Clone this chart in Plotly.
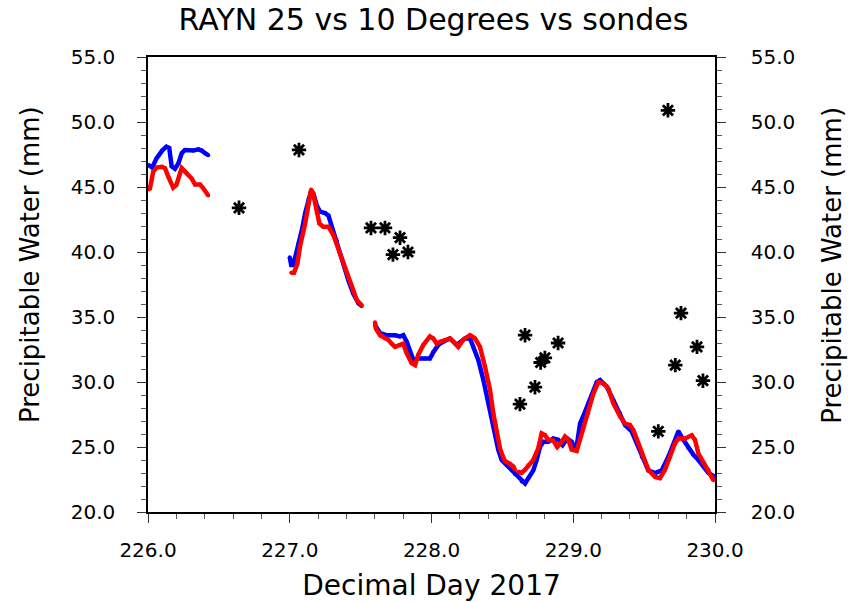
import plotly.graph_objects as go

# ---- data ----
blue_x = [226.000, 226.030, 226.060, 226.100, 226.130, 226.150, 226.167, 226.190, 226.214, 226.238, 226.260, 226.320, 226.355, 226.379, 226.402, 226.425,
          None,
          227.000, 227.010, 227.025, 227.040, 227.062, 227.086, 227.109, 227.132, 227.151, 227.167, 227.190, 227.214, 227.249, 227.273, 227.296, 227.331, 227.378, 227.413, 227.448, 227.484, 227.508,
          None,
          227.601, 227.637, 227.684, 227.743, 227.778, 227.801, 227.825, 227.848, 227.872, 227.907, 227.954, 227.989, 228.013, 228.048, 228.083, 228.130, 228.178, 228.236, 228.272, 228.295, 228.330, 228.365, 228.400, 228.436, 228.460,
          228.471, 228.495, 228.530, 228.566, 228.589, 228.636, 228.660, 228.683, 228.718, 228.742, 228.765, 228.789, 228.824, 228.859, 228.894, 228.925, 228.958, 228.989, 229.012, 229.029, 229.048, 229.083, 229.130, 229.166, 229.189,
          229.236, 229.283, 229.330, 229.365, 229.412, 229.448, 229.483, 229.530, 229.577, 229.624, 229.671, 229.711, 229.742, 229.777, 229.812, 229.848, 229.883, 229.918, 229.954, 230.000]
blue_y = [46.7, 46.5, 47.2, 47.8, 48.1, 48.0, 46.6, 46.4, 46.8, 47.6, 47.85, 47.8, 47.9, 47.8, 47.6, 47.45,
          None,
          39.6, 39.0, 39.0, 39.6, 40.7, 41.7, 43.0, 44.1, 44.7, 44.5, 43.6, 43.1, 43.0, 42.8, 41.95, 40.9, 39.1, 37.85, 36.8, 36.05, 35.85,
          None,
          34.4, 33.75, 33.6, 33.6, 33.5, 33.6, 33.1, 32.3, 31.7, 31.8, 31.8, 31.8, 32.3, 32.85, 33.1, 33.35, 32.85, 33.35, 33.35, 32.7, 31.7, 30.2, 28.4, 26.6, 25.3,
          24.8, 24.0, 23.6, 23.2, 22.9, 22.35, 22.2, 22.6, 23.2, 24.0, 25.0, 25.4, 25.4, 25.65, 25.55, 25.15, 25.65, 25.4, 24.8, 25.4, 26.8, 27.7, 29.0, 30.0, 30.15,
          29.65, 28.6, 27.6, 26.7, 26.2, 25.3, 24.25, 23.2, 23.0, 23.2, 24.25, 25.35, 26.2, 25.55, 24.9, 24.4, 24.0, 23.5, 23.0, 22.7]

red_x = [226.000, 226.014, 226.037, 226.061, 226.097, 226.120, 226.143, 226.178, 226.200, 226.238, 226.273, 226.308, 226.332, 226.367, 226.390, 226.425,
         None,
         227.010, 227.030, 227.054, 227.072, 227.109, 227.132, 227.151, 227.167, 227.190, 227.209, 227.237, 227.273, 227.308, 227.355, 227.402, 227.437, 227.473, 227.508,
         None,
         227.601, 227.608, 227.637, 227.672, 227.695, 227.719, 227.743, 227.778, 227.801, 227.825, 227.860, 227.884, 227.907, 227.942, 227.989, 228.013, 228.037, 228.060, 228.095, 228.130, 228.154, 228.189, 228.224, 228.272, 228.307, 228.342, 228.377, 228.413, 228.436, 228.460, 228.483, 228.495, 228.519, 228.554, 228.577, 228.589,
         None,
         228.612, 228.636, 228.660, 228.683, 228.718, 228.753, 228.777, 228.801, 228.824, 228.859, 228.887, 228.919, 228.942, 228.965, 228.989, 229.024, 229.048, 229.071, 229.106, 229.142, 229.177, 229.212, 229.247,
         229.283, 229.330, 229.365, 229.400, 229.424, 229.459, 229.494, 229.530, 229.577, 229.612, 229.647, 229.683, 229.718, 229.742, 229.789, 229.836, 229.859, 229.883, 229.918, 229.954, 229.989]
red_y = [44.8, 44.9, 46.2, 46.5, 46.55, 46.45, 45.8, 44.95, 45.15, 46.45, 46.05, 45.65, 45.2, 45.2, 44.9, 44.35,
         None,
         38.4, 38.4, 39.1, 40.4, 42.2, 43.75, 44.8, 44.4, 43.0, 42.2, 41.95, 41.95, 41.3, 39.9, 38.35, 37.35, 36.3, 35.9,
         None,
         34.6, 34.1, 33.6, 33.35, 33.25, 32.95, 32.7, 32.85, 32.95, 32.2, 31.45, 31.3, 32.1, 32.85, 33.5, 33.35, 32.95, 33.1, 33.2, 33.35, 33.1, 32.7, 33.25, 33.6, 33.35, 32.7, 31.2, 29.4, 27.6, 26.05, 24.9, 24.5, 23.9, 23.7, 23.5, 23.25,
         None,
         23.1, 23.0, 23.25, 23.6, 24.0, 24.9, 26.05, 25.9, 25.55, 25.5, 25.0, 25.4, 25.8, 25.55, 24.8, 24.7, 25.55, 26.45, 27.6, 29.1, 30.0, 29.9, 29.5,
         28.35, 27.35, 26.8, 26.7, 26.3, 25.3, 24.25, 23.25, 22.7, 22.6, 23.25, 24.25, 25.3, 25.65, 25.65, 25.9, 25.55, 24.5, 23.85, 23.25, 22.45]

sonde_x = [226.642, 227.065, 227.573, 227.672, 227.778, 227.728, 227.834, 228.660, 228.893, 228.800, 228.770, 228.730, 228.624,
           229.668, 229.760, 229.873, 229.720, 229.915, 229.600]
sonde_y = [43.4, 47.85, 41.85, 41.85, 41.1, 39.8, 40.0, 33.6, 33.0, 31.85, 31.5, 29.6, 28.3,
           50.9, 35.3, 32.7, 31.3, 30.1, 26.2]

x_ticks = [226.0, 227.0, 228.0, 229.0, 230.0]
y_ticks = [20.0, 25.0, 30.0, 35.0, 40.0, 45.0, 50.0, 55.0]

FONT = "DejaVu Sans"
Y_TITLE = "Precipitable Water (mm)"

fig = go.Figure()
fig.add_trace(go.Scatter(x=blue_x, y=blue_y, mode="lines+markers",
                         line=dict(color="#0000ff", width=4.5), marker=dict(color="#0000ff", size=4),
                         connectgaps=False, showlegend=False))
fig.add_trace(go.Scatter(x=red_x, y=red_y, mode="lines+markers",
                         line=dict(color="#ff0000", width=4.5), marker=dict(color="#ff0000", size=4),
                         connectgaps=False, showlegend=False))
fig.add_trace(go.Scatter(x=sonde_x, y=sonde_y, mode="markers",
                         marker=dict(symbol="asterisk-open", size=12, color="black",
                                     line=dict(color="black", width=2.8)),
                         showlegend=False))
# dummy trace so the right axis is drawn
fig.add_trace(go.Scatter(x=[None], y=[None], yaxis="y2", showlegend=False))

axis_common = dict(showgrid=False, zeroline=False, showline=True, linecolor="black", linewidth=1.5,
                   ticks="outside", ticklen=9, tickwidth=1.2, tickcolor="#333333", automargin=False,
                   tickfont=dict(family=FONT, size=20, color="black"))

fig.update_layout(
    width=850, height=602,
    margin=dict(l=148, r=135, t=57, b=90),
    plot_bgcolor="white", paper_bgcolor="white",
    title=dict(text="RAYN 25 vs 10 Degrees vs sondes", x=0.51, xanchor="center", y=0.968, yanchor="middle",
               font=dict(family=FONT, size=30, color="black")),
    xaxis=dict(range=[226, 230], tickvals=x_ticks, ticktext=[f"{v:.1f}" for v in x_ticks],
               mirror=True, ticklabelstandoff=10,
               minor=dict(dtick=0.2, ticks="outside", ticklen=5, tickcolor="#555555", tickwidth=1),
               title=dict(text="Decimal Day 2017", standoff=16, font=dict(family=FONT, size=28, color="black")),
               **axis_common),
    yaxis=dict(range=[20, 55], tickvals=y_ticks, ticktext=[f"{v:.1f}" for v in y_ticks],
               ticklabelstandoff=18,
               minor=dict(dtick=1, ticks="outside", ticklen=5, tickcolor="#555555", tickwidth=1),
               **axis_common),
    yaxis2=dict(range=[20, 55], overlaying="y", side="right", anchor="x",
                tickvals=y_ticks, ticktext=[f"{v:.1f}" for v in y_ticks],
                ticklabelstandoff=21,
                minor=dict(dtick=1, ticks="outside", ticklen=5, tickcolor="#555555", tickwidth=1),
                **axis_common),
    annotations=[
        dict(text=Y_TITLE, xref="paper", yref="paper", x=-0.208, y=0.543, textangle=-90,
             showarrow=False, xanchor="center", yanchor="middle",
             font=dict(family=FONT, size=26, color="black")),
        dict(text=Y_TITLE, xref="paper", yref="paper", x=1.206, y=0.543, textangle=-90,
             showarrow=False, xanchor="center", yanchor="middle",
             font=dict(family=FONT, size=26, color="black")),
    ],
)

fig.write_html("out.html")
